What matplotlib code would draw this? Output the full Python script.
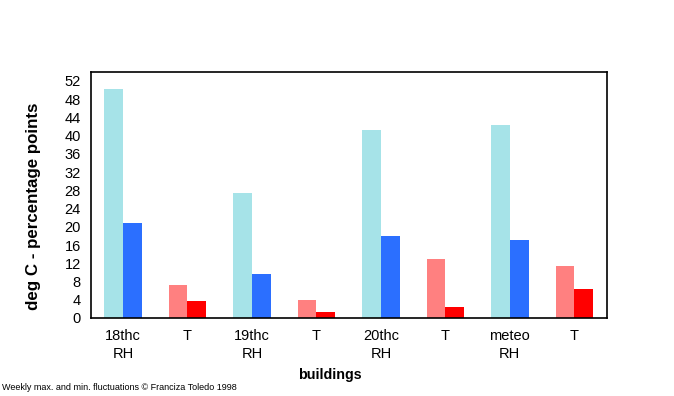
import matplotlib
matplotlib.use("Agg")
import matplotlib.pyplot as plt
import numpy as np

plt.rcParams['font.family'] = ['Liberation Sans', 'DejaVu Sans']

labels = ["18thc\nRH", "T", "19thc\nRH", "T", "20thc\nRH", "T", "meteo\nRH", "T"]
max_vals = [50.2, 7.2, 27.5, 3.9, 41.3, 12.9, 42.4, 11.4]
min_vals = [20.9, 3.7, 9.6, 1.3, 17.9, 2.4, 17.2, 6.3]
kind = ["RH", "T", "RH", "T", "RH", "T", "RH", "T"]

light = {"RH": "#a6e3e8", "T": "#ff8080"}
dark = {"RH": "#2b6fff", "T": "#ff0000"}

fig = plt.figure(figsize=(6.74, 3.96), dpi=100)
ax = fig.add_axes([0.1346, 0.197, 0.9 - 0.1346, 0.819 - 0.197])

x = np.arange(len(labels))
w = 0.29
ax.bar(x - w/2, max_vals, w, color=[light[k] for k in kind])
ax.bar(x + w/2, min_vals, w, color=[dark[k] for k in kind])

ax.set_xlim(-0.5, len(labels) - 0.5)
ax.set_ylim(0, 54)
ax.set_yticks(np.arange(0, 53, 4))
ax.set_xticks(x)
ax.set_xticklabels(labels, linespacing=1.4)
ax.tick_params(length=0, labelsize=10.5, pad=7)
ax.tick_params(axis='x', pad=8)
for s in ax.spines.values():
    s.set_linewidth(1.2)

ax.set_ylabel("deg C - percentage points", fontsize=12.2, fontweight='bold', va='center')
ax.yaxis.set_label_coords(-0.111, 0.455)
ax.set_xlabel("buildings", fontsize=10.3, fontweight='bold', va='center')
ax.xaxis.set_label_coords(0.464, -0.231)
fig.text(0.003, 1 - 388/396, "Weekly max. and min. fluctuations \u00a9 Franciza Toledo 1998",
         fontsize=6.5, va='center')

fig.savefig("out.png", dpi=100)
